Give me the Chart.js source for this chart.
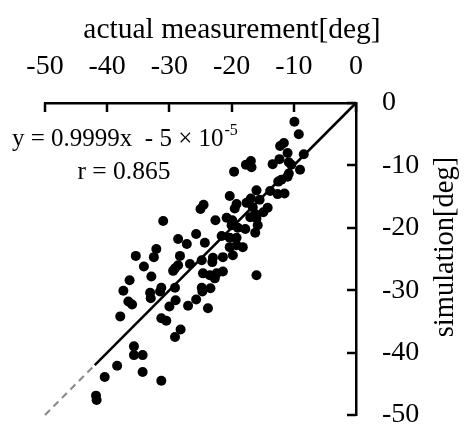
<!DOCTYPE html>
<html>
<head>
<meta charset="utf-8">
<script src="https://cdn.jsdelivr.net/npm/chart.js@4"></script>
<style>
  html, body { margin: 0; padding: 0; background: #fff; }
  #wrap { width: 464px; height: 428px; position: relative; }
</style>
</head>
<body>
<div id="wrap"><canvas id="c" width="464" height="428"></canvas></div>
<script>
// ---- data ----
const xTitle = 'actual measurement[deg]';
const yTitle = 'simulation[deg]';
const eqText = 'y = 0.9999x  - 5 \u00d7 10';
const eqSup = '-5';
const rText = 'r = 0.865';
const axisMin = -50;
const axisMax = 0;
const tickStep = 10;

const actual = [
  -9.9, -9.2, -8.4, -11.6, -12.2, -11.0, -12.3, -10.8, -13.4, -10.4, -9.0, -10.8, -11.0, -12.0, -12.5,
  -16.9, -17.7, -16.8, -19.6,
  -13.8, -12.6, -11.5, -16.0, -20.3, -16.9, -17.6, -15.5, -19.2, -19.5, -16.6, -14.2, -14.9, -16.2, -17.0, -16.0,
  -20.8, -19.9, -22.6, -20.0, -19.0, -15.8, -17.8, -16.2, -19.2, -21.6, -20.3,
  -24.5, -25.0, -31.0,
  -20.3, -19.2, -18.2, -24.3, -19.8, -21.4, -23.0,
  -25.7, -28.6, -27.2, -32.1, -32.5, -28.3, -26.7, -24.8, -23.1,
  -29.1, -29.4, -28.6, -24.6, -23.5, -22.4, -21.4, -22.7, -32.9, -31.3, -24.8,
  -31.5, -33.1, -29.1, -29.0, -30.0, -27.0, -25.7, -24.7, -23.4, -23.8, -31.3, -30.5, -28.2, -29.1,
  -35.4, -34.1, -36.4, -37.4, -33.0, -36.6, -36.0, -37.9,
  -35.7, -35.7, -34.3, -38.4, -34.3, -40.4, -31.3, -41.8, -41.7,
  -16.0
];
const simulation = [
  -3.0, -5.0, -8.2, -6.4, -6.9, -8.0, -9.0, -9.5, -9.8, -9.9, -10.7, -11.3, -11.8, -12.3, -12.6,
  -9.3, -9.9, -10.3, -11.0,
  -14.1, -14.6, -14.5, -14.0, -14.9, -15.3, -16.0, -15.5, -16.2, -16.9, -16.7, -16.8, -17.5, -17.8, -18.3, -18.5,
  -18.4, -18.8, -18.8, -19.6, -20.0, -19.6, -20.2, -20.8, -21.6, -21.3, -21.6,
  -16.3, -17.0, -18.9,
  -23.1, -22.8, -23.1, -22.4, -24.4, -24.7, -24.8,
  -21.0, -21.8, -22.6, -23.4, -24.7, -24.5, -25.8, -25.2, -25.5,
  -26.5, -26.9, -26.0, -27.3, -27.6, -27.3, -27.0, -28.1, -27.8, -29.6, -29.6,
  -30.2, -30.4, -29.6, -31.6, -32.6, -32.5, -31.5, -30.2, -29.7, -32.9, -34.5, -34.9, -36.3, -37.5,
  -24.5, -26.2, -28.4, -30.1, -31.3, -31.8, -32.3, -34.2,
  -39.0, -40.4, -40.4, -42.1, -43.1, -43.9, -44.5, -46.9, -47.6,
  -27.6
];
// regression line end points (solid part and dashed extrapolation)
const fitSolidX = [-42, 0];
const fitSolidY = [-42, 0];
const fitDashX = [-50, -42];
const fitDashY = [-50, -42];

const FONT = '"Liberation Serif", "Times New Roman", serif';

const pts = actual.map((v, i) => ({ x: v, y: simulation[i] }));
const solid = fitSolidX.map((v, i) => ({ x: v, y: fitSolidY[i] }));
const dash = fitDashX.map((v, i) => ({ x: v, y: fitDashY[i] }));

const extras = {
  id: 'extras',
  afterDraw(chart) {
    const ctx = chart.ctx;
    const xs = chart.scales.x, ys = chart.scales.y;
    const ca = chart.chartArea;
    ctx.save();
    // inner tick marks
    ctx.strokeStyle = '#000';
    ctx.lineWidth = 2.5;
    xs.ticks.forEach(t => {
      const px = Math.round(xs.getPixelForValue(t.value));
      ctx.beginPath(); ctx.moveTo(px, ca.top); ctx.lineTo(px, ca.top + 9); ctx.stroke();
    });
    ys.ticks.forEach(t => {
      const py = Math.round(ys.getPixelForValue(t.value));
      ctx.beginPath(); ctx.moveTo(ca.right, py); ctx.lineTo(ca.right - 9, py); ctx.stroke();
    });
    // titles
    ctx.fillStyle = '#000';
    ctx.font = '29.5px ' + FONT;
    ctx.textAlign = 'center';
    ctx.textBaseline = 'alphabetic';
    ctx.fillText(xTitle, 232, 38);
    ctx.save();
    ctx.translate(446, 247);
    ctx.rotate(-Math.PI / 2);
    ctx.font = '28.5px ' + FONT;
    ctx.textBaseline = 'middle';
    ctx.fillText(yTitle, 0, 0);
    ctx.restore();
    // annotation
    ctx.textAlign = 'left';
    ctx.font = '25px ' + FONT;
    ctx.fillText(eqText, 12, 146);
    const w = ctx.measureText(eqText).width;
    ctx.font = '16px ' + FONT;
    ctx.fillText(eqSup, 12 + w + 1, 135);
    ctx.font = '25.5px ' + FONT;
    ctx.textAlign = 'center';
    ctx.fillText(rText, 124, 179);
    ctx.restore();
  }
};

new Chart(document.getElementById('c'), {
  type: 'scatter',
  data: {
    datasets: [
      {
        data: dash, showLine: true, borderColor: '#8c8c8c', borderWidth: 2.2,
        borderDash: [7, 5], pointRadius: 0, clip: false, order: 2
      },
      {
        data: solid, showLine: true, borderColor: '#000', borderWidth: 2.5,
        pointRadius: 0, clip: false, order: 1
      },
      {
        data: pts, backgroundColor: '#000', borderWidth: 0,
        pointRadius: 5, clip: false, order: 0
      }
    ]
  },
  options: {
    responsive: false,
    animation: false,
    devicePixelRatio: 1,
    layout: { padding: { left: 45, right: 0, top: 0, bottom: 13 } },
    plugins: { legend: { display: false }, tooltip: { enabled: false } },
    scales: {
      x: {
        type: 'linear', position: 'top', min: axisMin, max: axisMax,
        ticks: { stepSize: tickStep, color: '#000', font: { family: FONT, size: 28 }, padding: 20, maxRotation: 0 },
        grid: { display: false, drawTicks: false },
        border: { display: true, color: '#000', width: 2.5 },
        afterFit(s) { s.height = 103; }
      },
      y: {
        type: 'linear', position: 'right', min: axisMin, max: axisMax,
        ticks: { stepSize: tickStep, color: '#000', font: { family: FONT, size: 28, lineHeight: 0.9 }, padding: 0 },
        grid: { display: true, drawOnChartArea: false, drawTicks: true, tickLength: 26, color: 'rgba(0,0,0,0)' },
        border: { display: true, color: '#000', width: 2.5 },
        afterFit(s) { s.width = 108; }
      }
    }
  },
  plugins: [extras]
});
</script>
</body>
</html>
